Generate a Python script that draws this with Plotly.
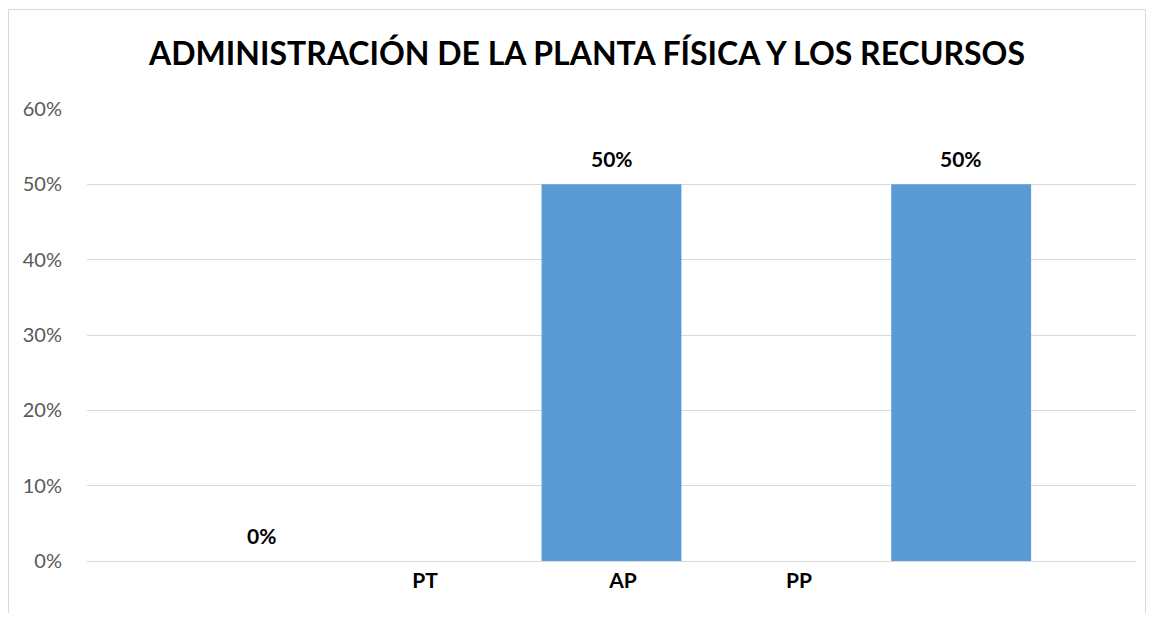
import plotly.graph_objects as go

categories = ["PT", "AP", "PP"]
values = [0.0, 0.5, 0.5]
value_labels = ["0%", "50%", "50%"]
title_text = "ADMINISTRACIÓN DE LA PLANTA FÍSICA Y LOS RECURSOS"
y_ticks = [0, 0.1, 0.2, 0.3, 0.4, 0.5, 0.6]
y_ticklabels = ["0%", "10%", "20%", "30%", "40%", "50%", "60%"]

bar_x = list(range(len(categories)))
label_offsets = [0.467, 0.033, -0.464]
tick_pos = [i + o for i, o in zip(bar_x, label_offsets)]

FONT = "Lato"
W, H = 1138, 605
L, R, T, B = 79, 10, 101, 52
pw, ph = W - L - R, H - T - B

fig = go.Figure()
fig.add_trace(go.Bar(
    x=bar_x, y=values, width=0.4,
    marker=dict(color="#5b9bd5", line=dict(width=0)),
    hoverinfo="x+y",
))

annotations = [
    dict(x=xv, y=yv, xref="x", yref="y", text="<b>%s</b>" % lab, showarrow=False,
         yanchor="middle", xanchor="center", yshift=26,
         font=dict(family=FONT, size=21, color="#000000"))
    for xv, yv, lab in zip(bar_x, values, value_labels)
]

fig.update_layout(
    width=W, height=H,
    margin=dict(l=L, r=R, t=T, b=B),
    paper_bgcolor="white", plot_bgcolor="white",
    showlegend=False,
    title=dict(text="<b>" + title_text + "</b>", x=579 / W, xanchor="center",
               xref="container",
               y=1 - 46 / H, yanchor="middle",
               font=dict(family=FONT, size=32, color="#000000")),
    xaxis=dict(range=[-0.5, 2.5], tickvals=tick_pos, ticktext=["<b>%s</b>" % c for c in categories],
               showgrid=False, zeroline=False, showline=False, ticks="", automargin=False,
               tickfont=dict(family=FONT, size=21, color="#000000"), ticklabelstandoff=5),
    yaxis=dict(range=[0, 0.6], tickvals=y_ticks, ticktext=y_ticklabels,
               showgrid=True, gridcolor="#d9d9d9", gridwidth=1,
               zeroline=True, zerolinecolor="#d9d9d9", zerolinewidth=1,
               showline=False, ticks="", ticklabelstandoff=24, automargin=False,
               tickfont=dict(family=FONT, size=20, color="#595959")),
    annotations=annotations,
    shapes=[dict(type="rect", xref="paper", yref="paper",
                 x0=(0.5 - L) / pw, x1=(W - 0.5 - L) / pw,
                 y0=(ph + T - H - 20) / ph, y1=(ph + T - 1.5) / ph,
                 line=dict(color="#d9d9d9", width=1), fillcolor="rgba(0,0,0,0)", layer="below")],
)

fig.write_html("out.html")
